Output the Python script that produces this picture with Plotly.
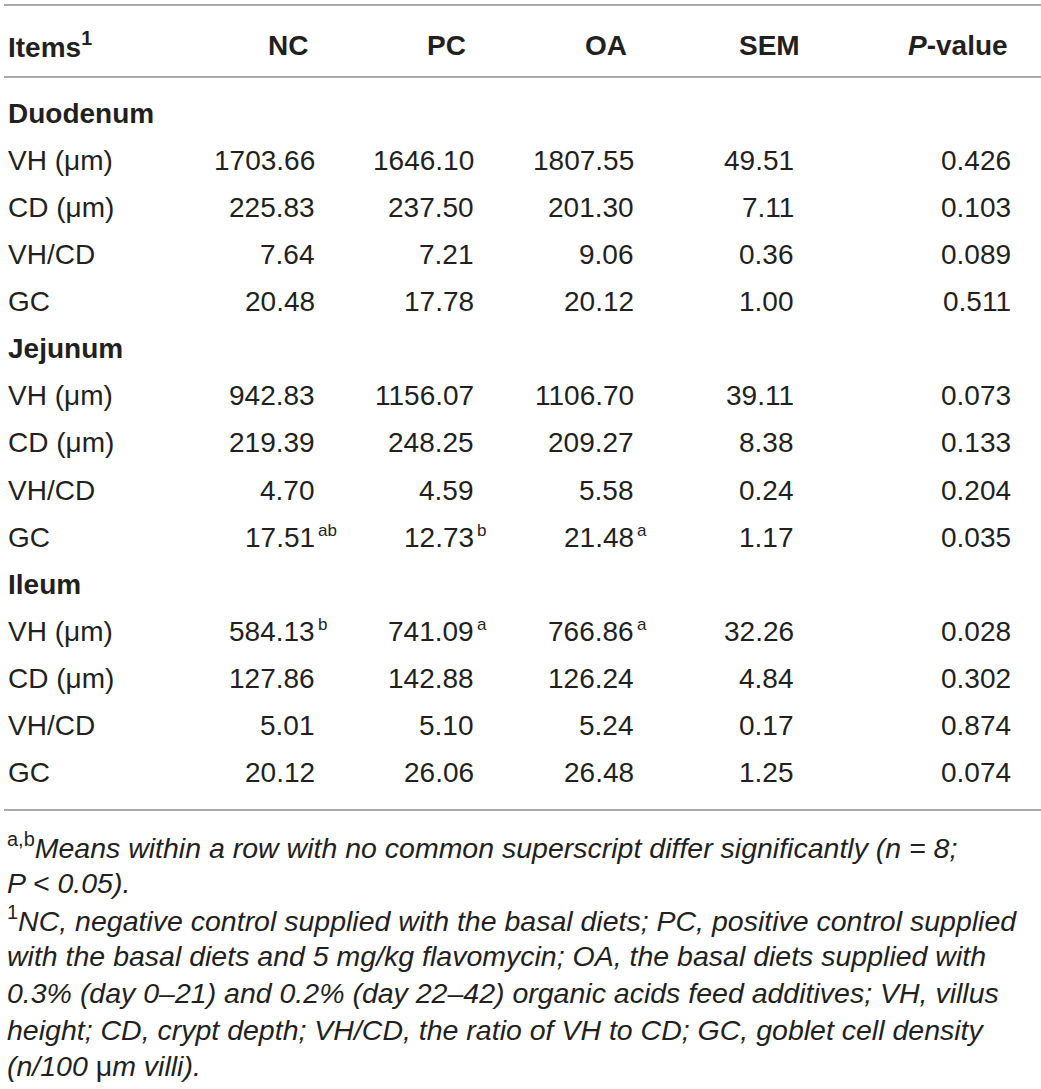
import plotly.graph_objects as go

# ---------------- data ----------------
headers = ["Items", "NC", "PC", "OA", "SEM", "P-value"]
sections = ["Duodenum", "Jejunum", "Ileum"]
items = ["VH (μm)", "CD (μm)", "VH/CD", "GC"]
nc = [1703.66, 225.83, 7.64, 20.48, 942.83, 219.39, 4.70, 17.51, 584.13, 127.86, 5.01, 20.12]
pc = [1646.10, 237.50, 7.21, 17.78, 1156.07, 248.25, 4.59, 12.73, 741.09, 142.88, 5.10, 26.06]
oa = [1807.55, 201.30, 9.06, 20.12, 1106.70, 209.27, 5.58, 21.48, 766.86, 126.24, 5.24, 26.48]
sem = [49.51, 7.11, 0.36, 1.00, 39.11, 8.38, 0.24, 1.17, 32.26, 4.84, 0.17, 1.25]
pval = [0.426, 0.103, 0.089, 0.511, 0.073, 0.133, 0.204, 0.035, 0.028, 0.302, 0.874, 0.074]
nc_sup = ["", "", "", "", "", "", "", "ab", "b", "", "", ""]
pc_sup = ["", "", "", "", "", "", "", "b", "a", "", "", ""]
oa_sup = ["", "", "", "", "", "", "", "a", "a", "", "", ""]
footnotes = [
    "<sup>a,b</sup><i>Means within a row with no common superscript differ significantly (n = 8;</i>",
    "<i>P < 0.05).</i>",
    "<sup>1</sup><i>NC, negative control supplied with the basal diets; PC, positive control supplied</i>",
    "<i>with the basal diets and 5 mg/kg flavomycin; OA, the basal diets supplied with</i>",
    "<i>0.3% (day 0–21) and 0.2% (day 22–42) organic acids feed additives; VH, villus</i>",
    "<i>height; CD, crypt depth; VH/CD, the ratio of VH to CD; GC, goblet cell density</i>",
    "<i>(n/100 </i>μ<i>m villi).</i>",
]

# ---------------- layout constants ----------------
W, H = 1041, 1089
FONT = "Liberation Sans, Arial, Helvetica, sans-serif"
TXT = "#231f20"
RULE = "#a7a9ac"
FS = 28
FS_FOOT = 28.5
col_right = [316, 475, 635, 795, 1012]
head_right = [309, 467, 628, 801, 1009]
x_left = 7
y_head = 45
y_first = 113
row_h = 47.14
foot_y0 = 846
foot_h = 36.7

fig = go.Figure()
ann = []

def add(x, y, text, anchor="left", size=FS, color=TXT):
    ann.append(dict(x=x, y=y, xref="x", yref="y", text=text, showarrow=False,
                    xanchor=anchor, yanchor="middle", borderpad=0,
                    font=dict(family=FONT, size=size, color=color)))

# header
add(x_left, y_head, "<b>Items<sup>1</sup></b>")
head_txt = ["<b>NC</b>", "<b>PC</b>", "<b>OA</b>", "<b>SEM</b>", "<b><i>P</i>-value</b>"]
for xr, t in zip(head_right, head_txt):
    add(xr, y_head, t, anchor="right")

# body
row = 0
for s_i, sec in enumerate(sections):
    y = y_first + row * row_h
    add(x_left, y, "<b>" + sec + "</b>")
    row += 1
    for it_i, it in enumerate(items):
        k = s_i * len(items) + it_i
        y = y_first + row * row_h
        add(x_left, y, it)
        vals = [f"{nc[k]:.2f}", f"{pc[k]:.2f}", f"{oa[k]:.2f}", f"{sem[k]:.2f}", f"{pval[k]:.3f}"]
        sups = [nc_sup[k], pc_sup[k], oa_sup[k], "", ""]
        for c in range(5):
            add(col_right[c], y, vals[c], anchor="right")
            if sups[c]:
                add(col_right[c] + 1, y - 7, sups[c], anchor="left", size=17)
        row += 1

# footnotes
for i, line in enumerate(footnotes):
    add(x_left - 1, foot_y0 + i * foot_h, line, size=FS_FOOT)

shapes = []
for yy in [5, 77, 810]:
    shapes.append(dict(type="line", xref="x", yref="y", x0=4, x1=1041, y0=yy, y1=yy,
                       line=dict(color=RULE, width=2)))

fig.update_layout(
    width=W, height=H,
    margin=dict(l=0, r=0, t=0, b=0),
    paper_bgcolor="white", plot_bgcolor="white",
    xaxis=dict(range=[0, W], visible=False, fixedrange=True),
    yaxis=dict(range=[H, 0], visible=False, fixedrange=True),
    annotations=ann, shapes=shapes, showlegend=False,
)
fig.write_html("out.html", config={"displayModeBar": False},
               post_script="document.body.style.margin='0';document.body.style.overflow='hidden';")
